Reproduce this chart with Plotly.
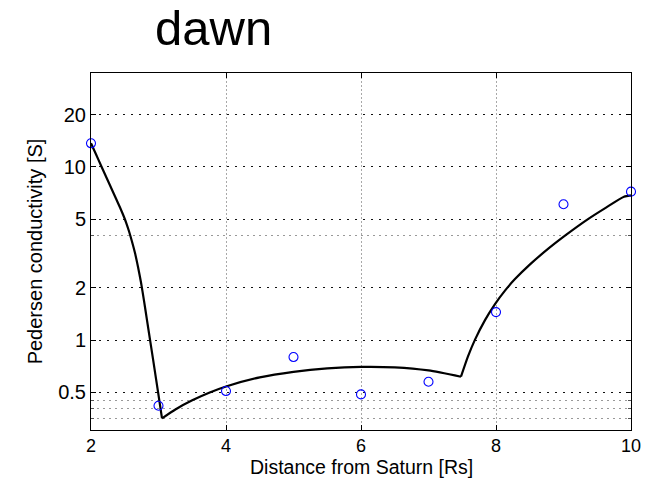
import plotly.graph_objects as go

# Measured Pedersen conductivity vs. radial distance (dawn sector)
dist_rs = [2, 3, 4, 5, 6, 7, 8, 9, 10]
sigma_obs = [13.7, 0.417, 0.507, 0.797, 0.485, 0.574, 1.45, 6.09, 7.2]

# Piecewise model curve, three branches
fit1_x = [2.0, 2.074, 2.148, 2.222, 2.296, 2.370, 2.430, 2.474, 2.519, 2.563, 2.607,
          2.652, 2.696, 2.741, 2.785, 2.830, 2.874, 2.919, 2.963, 3.007, 3.052]
fit1_y = [13.71, 11.84, 10.20, 8.81, 7.61, 6.57, 5.83, 5.31, 4.79, 4.25, 3.71,
          3.18, 2.65, 2.15, 1.69, 1.30, 1.005, 0.775, 0.598, 0.4615, 0.3527]

fit2_x = [3.052, 3.25, 3.5, 3.75, 4.0, 4.5, 5.0, 5.5, 6.0, 6.5, 7.0, 7.481]
fit2_y = [0.3527, 0.397, 0.448, 0.4955, 0.5385, 0.608, 0.6545, 0.6855, 0.6997, 0.695, 0.667, 0.6137]

fit3_x = [7.481, 7.585, 7.689, 7.837, 7.985, 8.133, 8.281, 8.504, 8.770, 9.037, 9.363, 9.630, 9.896, 10.0]
fit3_y = [0.6137, 0.804, 1.005, 1.303, 1.613, 1.930, 2.249, 2.735, 3.362, 4.051, 4.998, 5.826, 6.725, 6.852]

x_ticks = [2, 4, 6, 8, 10]
y_ticks = [0.5, 1, 2, 5, 10, 20]
y_ticktext = ["0.5", "1", "2", "5", "10", "20"]
y_minor = [0.35, 0.4, 0.45, 4]

FONT = "Liberation Sans, Arial, Helvetica, sans-serif"

fig = go.Figure()
for fx, fy in [(fit1_x, fit1_y), (fit2_x, fit2_y), (fit3_x, fit3_y)]:
    fig.add_trace(go.Scatter(
        x=fx, y=fy, mode="lines",
        line=dict(color="black", width=2.2, shape="spline", smoothing=0.6),
        showlegend=False, hoverinfo="skip",
    ))
fig.add_trace(go.Scatter(
    x=dist_rs, y=sigma_obs, mode="markers",
    marker=dict(symbol="circle-open", size=9, color="#0000ff", line=dict(width=1.1, color="#0000ff")),
    cliponaxis=False, showlegend=False,
))

fig.update_layout(
    width=657, height=480,
    margin=dict(l=91, r=26, t=73, b=50),
    paper_bgcolor="white", plot_bgcolor="white",
    font=dict(family=FONT, size=20, color="black"),
    xaxis=dict(
        range=[2, 10], tickvals=x_ticks, ticktext=[str(v) for v in x_ticks],
        ticks="inside", ticklen=5, tickcolor="black", ticklabelstandoff=-1,
        showline=True, linecolor="black", linewidth=1, mirror="ticks",
        showgrid=True, gridcolor="#a8a8a8", griddash="2px,2px", gridwidth=1,
        zeroline=False,
        tickfont=dict(size=18),
    ),
    yaxis=dict(
        type="log", range=[-0.52, 1.543],
        tickvals=y_ticks, ticktext=y_ticktext,
        ticks="inside", ticklen=5, tickcolor="black",
        showline=True, linecolor="black", linewidth=1, mirror="ticks",
        showgrid=True, gridcolor="#111111", griddash="2px,6px", gridwidth=1,
        zeroline=False,
        title=dict(text="Pedersen conductivity [S]", font=dict(size=20), standoff=10),
        tickfont=dict(size=20),
        minor=dict(tickvals=y_minor, ticks="inside", ticklen=3, tickcolor="#555555",
                   showgrid=True, gridcolor="#999999", griddash="2px,4px", gridwidth=1),
    ),
    annotations=[
        dict(text="dawn", xref="paper", yref="paper", x=0.226, y=1.2045,
             xanchor="center", yanchor="top", showarrow=False, borderpad=0,
             font=dict(size=49, family=FONT, color="black")),
        dict(text="Distance from Saturn [Rs]", xref="paper", yref="paper", x=0.5, y=-0.07,
             xanchor="center", yanchor="top", showarrow=False, borderpad=0,
             font=dict(size=19.5, family=FONT, color="black")),
    ],
)

fig.write_html("out.html")
